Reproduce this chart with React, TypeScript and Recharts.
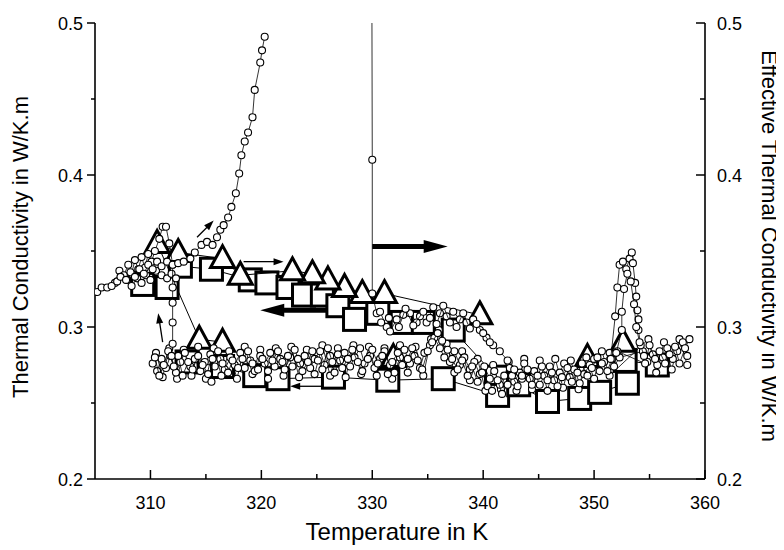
import React from 'react';
import { ScatterChart, Scatter, XAxis, YAxis, ReferenceLine, Label } from 'recharts';

type Pt = [number, number];

// small circles: heating run that shoots up near 320 K
const riseRun: Pt[] = [
  [305.2, 0.323], [305.6, 0.326], [306.1, 0.326], [306.5, 0.327], [307.0, 0.33], [307.3, 0.333],
  [307.8, 0.331], [308.2, 0.336], [308.6, 0.333], [309.0, 0.338], [309.4, 0.335], [309.8, 0.341],
  [310.2, 0.338], [310.6, 0.343], [311.0, 0.34], [311.5, 0.343], [312.0, 0.341], [312.5, 0.342],
  [313.0, 0.343], [313.6, 0.345], [314.0, 0.349], [314.6, 0.354], [315.1, 0.356], [315.6, 0.354],
  [316.0, 0.359], [316.3, 0.364], [316.6, 0.367], [317.0, 0.372], [317.3, 0.379], [317.7, 0.388],
  [318.0, 0.401], [318.2, 0.413], [318.5, 0.422], [318.8, 0.428], [319.2, 0.438], [319.4, 0.456],
  [319.9, 0.474], [320.06, 0.482], [320.3, 0.491],
];

// small circles: cluster near 310 K dropping to the lower band
const clusterRun: Pt[] = [
  [306.8, 0.329], [307.2, 0.337], [307.6, 0.334], [308.0, 0.341], [308.3, 0.335], [308.6, 0.344],
  [308.9, 0.338], [309.2, 0.346], [309.5, 0.339], [309.8, 0.348], [310.1, 0.343], [310.4, 0.35],
  [310.8, 0.358], [311.1, 0.366], [311.4, 0.366], [311.7, 0.355], [312.0, 0.341], [312.0, 0.326],
  [312.0, 0.316], [312.0, 0.303], [312.0, 0.289], [311.9, 0.281],
];

const clusterSide: Pt[] = [
  [307.9, 0.331], [308.3, 0.327], [308.8, 0.332], [309.2, 0.329], [309.6, 0.334], [310.0, 0.331],
  [310.5, 0.337], [311.0, 0.334], [311.5, 0.332], [311.9, 0.335], [312.3, 0.332],
];

// small circles: spike at 330 K then upper branch
const upperRun: Pt[] = [
  [329.95, 0.56], [330.0, 0.41], [330.0, 0.322], [330.4, 0.309], [330.7, 0.31], [331.3, 0.3],
  [331.6, 0.297], [332.2, 0.305], [332.8, 0.308], [333.4, 0.309], [334.0, 0.303], [334.3, 0.307],
  [334.9, 0.303], [335.5, 0.313], [336.1, 0.309], [336.7, 0.307], [337.3, 0.31], [337.9, 0.305],
  [338.5, 0.303], [339.1, 0.305], [339.7, 0.298], [340.3, 0.293], [340.9, 0.288], [341.5, 0.284],
  [342.2, 0.278], [342.8, 0.272], [343.5, 0.268],
];

const upperRun2: Pt[] = [
  [330.8, 0.303], [331.5, 0.306], [332.4, 0.3], [333.0, 0.312], [333.7, 0.301], [334.6, 0.31],
  [335.2, 0.306], [335.8, 0.302], [336.4, 0.314], [337.0, 0.303], [337.6, 0.3], [338.2, 0.309],
  [338.8, 0.299], [339.4, 0.302], [340.0, 0.296], [340.6, 0.29],
];

// small circles: lower band
const lowerRunA: Pt[] = [
  [310.2, 0.276], [310.6, 0.271], [311.0, 0.279], [311.4, 0.273], [311.8, 0.281], [312.3, 0.27],
  [312.7, 0.277], [313.1, 0.283], [313.6, 0.274], [314.0, 0.279], [314.5, 0.271], [314.9, 0.277],
  [315.4, 0.282], [315.8, 0.274], [316.3, 0.279], [316.7, 0.272], [317.2, 0.28], [317.6, 0.275],
  [318.1, 0.283], [318.5, 0.273], [319.0, 0.278], [319.4, 0.271], [319.9, 0.281], [320.3, 0.276],
  [320.8, 0.283], [321.2, 0.274], [321.7, 0.279], [322.1, 0.272], [322.6, 0.28], [323.0, 0.285],
  [323.5, 0.276], [323.9, 0.281], [324.4, 0.273], [324.8, 0.279], [325.3, 0.284], [325.7, 0.275],
  [326.2, 0.281], [326.6, 0.27], [327.1, 0.278], [327.5, 0.283], [328.0, 0.274], [328.4, 0.28],
  [328.9, 0.286], [329.3, 0.276], [329.8, 0.281], [330.2, 0.273], [330.7, 0.279], [331.1, 0.284],
  [331.6, 0.275], [332.0, 0.27], [332.5, 0.28], [332.9, 0.285], [333.4, 0.276], [333.8, 0.281],
  [334.3, 0.273], [334.7, 0.283], [335.2, 0.288], [335.6, 0.293], [336.1, 0.286], [336.5, 0.28],
  [337.0, 0.277], [337.4, 0.284], [337.9, 0.275], [338.3, 0.28], [338.8, 0.272], [339.2, 0.277],
  [339.7, 0.269], [340.1, 0.274], [340.6, 0.266], [341.0, 0.271], [341.5, 0.262], [341.9, 0.268],
  [342.4, 0.273], [342.8, 0.264], [343.3, 0.27], [343.7, 0.276], [344.2, 0.266], [344.6, 0.271],
  [345.1, 0.262], [345.5, 0.268], [346.0, 0.274], [346.4, 0.265], [346.9, 0.27], [347.3, 0.276],
  [347.8, 0.267], [348.2, 0.272], [348.7, 0.263], [349.1, 0.269], [349.6, 0.275], [350.0, 0.279],
  [350.5, 0.271], [350.9, 0.277], [351.4, 0.283], [351.8, 0.274], [352.3, 0.28],
  [354.4, 0.284], [354.8, 0.277], [355.3, 0.282], [355.7, 0.275], [356.2, 0.28], [356.6, 0.286],
  [357.1, 0.279], [357.5, 0.284], [358.0, 0.29], [358.4, 0.281],
];

const lowerRunB: Pt[] = [
  [310.4, 0.28], [310.8, 0.268], [311.2, 0.275], [311.6, 0.284], [312.1, 0.274], [312.5, 0.281],
  [312.9, 0.268], [313.4, 0.277], [313.8, 0.272], [314.3, 0.281], [314.7, 0.275], [315.2, 0.269],
  [315.5, 0.264], [315.6, 0.279], [316.1, 0.284], [316.5, 0.276], [317.0, 0.27], [317.4, 0.278],
  [317.9, 0.273], [318.3, 0.279], [318.8, 0.284], [319.2, 0.276], [319.7, 0.272], [320.1, 0.279],
  [320.6, 0.271], [321.0, 0.278], [321.5, 0.284], [321.9, 0.277], [322.4, 0.281], [322.8, 0.274],
  [323.3, 0.279], [323.7, 0.271], [324.2, 0.277], [324.6, 0.284], [325.1, 0.278], [325.5, 0.272],
  [326.0, 0.286], [326.4, 0.277], [326.9, 0.282], [327.3, 0.273], [327.8, 0.279], [328.2, 0.285],
  [328.7, 0.277], [329.1, 0.271], [329.6, 0.279], [330.0, 0.285], [330.5, 0.276], [330.9, 0.281],
  [331.4, 0.269], [331.8, 0.277], [332.3, 0.283], [332.7, 0.275], [333.2, 0.279], [333.6, 0.286],
  [334.1, 0.278], [334.5, 0.272], [335.0, 0.284], [335.4, 0.29], [335.9, 0.296], [336.3, 0.291],
  [336.8, 0.285], [337.2, 0.279], [337.7, 0.272], [338.1, 0.278], [338.6, 0.268], [339.0, 0.274],
  [339.5, 0.264], [339.9, 0.27], [340.4, 0.261], [340.8, 0.258], [341.3, 0.265], [341.7, 0.256],
  [342.2, 0.262], [342.6, 0.268], [343.1, 0.261], [343.5, 0.266], [344.0, 0.272], [344.4, 0.262],
  [344.9, 0.268], [345.3, 0.274], [345.8, 0.265], [346.2, 0.27], [346.7, 0.261], [347.1, 0.267],
  [347.6, 0.273], [348.0, 0.264], [348.5, 0.27], [348.9, 0.276], [349.4, 0.268], [349.8, 0.273],
  [350.3, 0.28], [350.7, 0.276], [351.2, 0.271], [351.6, 0.279], [352.1, 0.284],
  [354.6, 0.276], [355.0, 0.288], [355.5, 0.279], [355.9, 0.284], [356.4, 0.276], [356.8, 0.282],
  [357.3, 0.287], [357.7, 0.276], [358.2, 0.286], [358.6, 0.292],
];

const lowerRunC: Pt[] = [
  [310.5, 0.283], [311.1, 0.267], [311.7, 0.286], [312.4, 0.266], [313.0, 0.285], [313.7, 0.268],
  [314.3, 0.287], [315.0, 0.266], [315.7, 0.286], [316.4, 0.268], [317.1, 0.284], [317.8, 0.266],
  [318.5, 0.287], [319.2, 0.269], [319.9, 0.285], [320.6, 0.266], [321.3, 0.286], [322.0, 0.268],
  [322.7, 0.287], [323.4, 0.267], [324.1, 0.285], [324.8, 0.269], [325.5, 0.288], [326.2, 0.268],
  [326.9, 0.286], [327.6, 0.267], [328.3, 0.288], [329.0, 0.269], [329.7, 0.287], [330.4, 0.268],
  [331.1, 0.286], [331.8, 0.266], [332.5, 0.288], [333.2, 0.27], [333.9, 0.287], [334.6, 0.268],
  [335.3, 0.292], [336.0, 0.298], [336.7, 0.289], [337.4, 0.27], [338.1, 0.284], [338.8, 0.265],
  [339.5, 0.279], [340.2, 0.258], [340.9, 0.275], [341.6, 0.259], [342.3, 0.277], [343.0, 0.258],
  [343.7, 0.279], [344.4, 0.259], [345.1, 0.278], [345.8, 0.258], [346.5, 0.279], [347.2, 0.26],
  [347.9, 0.278], [348.6, 0.259], [349.3, 0.28], [350.0, 0.266], [350.7, 0.284], [351.4, 0.268],
  [354.9, 0.292], [355.6, 0.27], [356.3, 0.29], [357.0, 0.272], [357.7, 0.292], [358.4, 0.275],
];

// small circles: peak near 353 K
const peakRunA: Pt[] = [
  [351.5, 0.279], [351.9, 0.307], [352.1, 0.326], [352.3, 0.341], [352.6, 0.343], [352.9, 0.338],
  [353.2, 0.345], [353.4, 0.349], [353.5, 0.342], [353.7, 0.329], [353.8, 0.32], [353.9, 0.311],
  [354.0, 0.305], [354.0, 0.298], [354.2, 0.288], [354.5, 0.281],
];

const peakRunB: Pt[] = [
  [352.0, 0.283], [352.5, 0.298], [352.5, 0.31], [352.7, 0.325], [353.0, 0.335], [353.3, 0.33],
  [353.6, 0.315], [353.8, 0.3], [354.1, 0.29],
];

// large open squares
const squaresUpper: Pt[] = [
  [309.3, 0.328], [311.5, 0.326], [312.7, 0.34], [315.5, 0.338], [319.0, 0.331], [320.5, 0.329],
  [322.4, 0.326], [323.8, 0.321], [325.5, 0.321], [326.9, 0.314], [328.4, 0.305], [330.5, 0.309],
  [332.7, 0.303], [334.6, 0.303], [337.3, 0.298], [341.2, 0.267],
];

const squaresLower: Pt[] = [
  [313.3, 0.277], [316.5, 0.274], [319.4, 0.268], [321.5, 0.266], [326.5, 0.267], [331.4, 0.265],
  [336.4, 0.266], [341.3, 0.255], [343.2, 0.262], [345.8, 0.251], [348.7, 0.253], [350.5, 0.257],
  [353.0, 0.263], [352.8, 0.278], [355.7, 0.275],
];

// large open triangles
const trianglesUpper: Pt[] = [
  [339.7, 0.308], [331.1, 0.322], [329.1, 0.322], [327.5, 0.326], [326.0, 0.331], [324.6, 0.335],
  [322.8, 0.337], [318.1, 0.334], [316.5, 0.345], [312.5, 0.349], [310.6, 0.355], [314.4, 0.292],
  [316.5, 0.29],
];

const trianglesLower: Pt[] = [
  [331.9, 0.28], [349.4, 0.28], [352.6, 0.29],
];

// direction arrows [from, to]
const boldArrows: [Pt, Pt][] = [
  [[330.0, 0.353], [336.8, 0.353]],
  [[327.5, 0.311], [319.9, 0.311]],
];

const thinArrows: [Pt, Pt][] = [
  [[318.4, 0.343], [322.0, 0.343]],
  [[326.0, 0.261], [322.6, 0.261]],
  [[311.1, 0.29], [310.7, 0.309]],
  [[314.2, 0.359], [315.7, 0.37]],
];

const xTicks = [310, 315, 320, 325, 330, 335, 340, 345, 350, 355, 360];
const yTicks = [0.2, 0.25, 0.3, 0.35, 0.4, 0.45, 0.5];

const FONT = 'Liberation Sans, Arial, Helvetica, sans-serif';

const pts = (a: Pt[]) => a.map(([x, y]) => ({ x, y }));

const circleShape = (p: any) => (
  <circle cx={p.cx} cy={p.cy} r={3.5} fill="#fff" stroke="#000" strokeWidth={1.1} />
);
const squareShape = (p: any) => (
  <rect x={p.cx - 11} y={p.cy - 11} width={22} height={22} fill="#fff" stroke="#000" strokeWidth={3} />
);
const triangleShape = (p: any) => (
  <polygon
    points={`${p.cx},${p.cy - 13} ${p.cx + 12},${p.cy + 9} ${p.cx - 12},${p.cy + 9}`}
    fill="#fff"
    stroke="#000"
    strokeWidth={3}
  />
);

const isMajorX = (v: number) => Math.round(v) % 10 === 0;
const isMajorY = (v: number) => Math.abs(v * 10 - Math.round(v * 10)) < 1e-6;

const BottomTick = (p: any) => {
  const v = p.payload.value;
  const major = isMajorX(v);
  return (
    <g>
      <line x1={p.x} y1={p.y} x2={p.x} y2={p.y - (major ? 9 : 5)} stroke="#000" strokeWidth={1.5} />
      {major && (
        <text x={p.x} y={p.y + 30} textAnchor="middle" fontSize={18} fontFamily={FONT} fill="#000">
          {v}
        </text>
      )}
    </g>
  );
};

const TopTick = (p: any) => {
  const major = isMajorX(p.payload.value);
  return <line x1={p.x} y1={p.y} x2={p.x} y2={p.y + (major ? 9 : 5)} stroke="#000" strokeWidth={1.5} />;
};

const LeftTick = (p: any) => {
  const v = p.payload.value;
  const major = isMajorY(v);
  return (
    <g>
      <line x1={p.x - (major ? 8 : 4)} y1={p.y} x2={p.x} y2={p.y} stroke="#000" strokeWidth={1.5} />
      {major && (
        <text x={p.x - 12} y={p.y + 6.5} textAnchor="end" fontSize={18} fontFamily={FONT} fill="#000">
          {v.toFixed(1)}
        </text>
      )}
    </g>
  );
};

const RightTick = (p: any) => {
  const v = p.payload.value;
  const major = isMajorY(v);
  return (
    <g>
      <line x1={p.x} y1={p.y} x2={p.x - (major ? 9 : 5)} y2={p.y} stroke="#000" strokeWidth={1.5} />
      {major && (
        <text x={p.x + 12} y={p.y + 6.5} textAnchor="start" fontSize={18} fontFamily={FONT} fill="#000">
          {v.toFixed(1)}
        </text>
      )}
    </g>
  );
};

const arrowShape = (width: number, headLen: number, headHalf: number) => (p: any) => {
  const { x1, y1, x2, y2 } = p;
  const dx = x2 - x1;
  const dy = y2 - y1;
  const len = Math.hypot(dx, dy) || 1;
  const ux = dx / len;
  const uy = dy / len;
  const bx = x2 - ux * headLen;
  const by = y2 - uy * headLen;
  const head = `${x2},${y2} ${bx - uy * headHalf},${by + ux * headHalf} ${bx + uy * headHalf},${by - ux * headHalf}`;
  return (
    <g>
      <line x1={x1} y1={y1} x2={bx + ux} y2={by + uy} stroke="#000" strokeWidth={width} />
      <polygon points={head} fill="#000" />
    </g>
  );
};

const boldArrow = arrowShape(5, 24, 6.5);
const thinArrow = arrowShape(1.3, 10, 3.5);

const xTitle = (p: any) => {
  const vb = p.viewBox || { x: 87, y: 471, width: 610 };
  return (
    <text x={vb.x + vb.width / 2 - 3} y={vb.y + 61} textAnchor="middle" fontSize={24} fontFamily={FONT} fill="#000">
      Temperature in K
    </text>
  );
};

const leftTitle = (p: any) => {
  const vb = p.viewBox || { y: 15, height: 456 };
  const cy = vb.y + vb.height / 2 - 4;
  return (
    <text x={20} y={cy} transform={`rotate(-90, 20, ${cy})`} textAnchor="middle" fontSize={22} fontFamily={FONT} fill="#000">
      Thermal Conductivity in W/K.m
    </text>
  );
};

const rightTitle = (p: any) => {
  const vb = p.viewBox || { x: 697, y: 15, height: 456 };
  const cx = vb.x + 57;
  const cy = vb.y + vb.height / 2 - 5;
  return (
    <text x={cx} y={cy} transform={`rotate(90, ${cx}, ${cy})`} textAnchor="middle" fontSize={22} fontFamily={FONT} fill="#000">
      Effective Thermal Conductivity in W/K.m
    </text>
  );
};

const thinLine = { stroke: '#000', strokeWidth: 0.8 };
const markerLine = { stroke: '#000', strokeWidth: 1 };

export default function App() {
  return (
    <div style={{ background: '#fff' }}>
      <ScatterChart width={776} height={542} margin={{ top: 15, right: 0, bottom: 0, left: 0 }}>
        <XAxis
          xAxisId="b"
          type="number"
          dataKey="x"
          domain={[305, 360]}
          ticks={xTicks}
          allowDataOverflow
          height={71}
          tickSize={0}
          tickMargin={0}
          tickLine={false}
          tick={BottomTick}
          axisLine={{ stroke: '#000', strokeWidth: 1.6 }}
          interval={0}
        >
          <Label content={xTitle} />
        </XAxis>
        <XAxis
          xAxisId="t"
          orientation="top"
          type="number"
          dataKey="x"
          domain={[305, 360]}
          ticks={xTicks}
          allowDataOverflow
          height={0}
          tickSize={0}
          tickMargin={0}
          tickLine={false}
          tick={TopTick}
          axisLine={{ stroke: '#000', strokeWidth: 1.6 }}
          interval={0}
        />
        <YAxis
          yAxisId="l"
          type="number"
          dataKey="y"
          domain={[0.2, 0.5]}
          ticks={yTicks}
          allowDataOverflow
          width={87}
          tickSize={0}
          tickMargin={0}
          tickLine={false}
          tick={LeftTick}
          axisLine={{ stroke: '#000', strokeWidth: 1.6 }}
          interval={0}
        >
          <Label content={leftTitle} />
        </YAxis>
        <YAxis
          yAxisId="r"
          orientation="right"
          type="number"
          dataKey="y"
          domain={[0.2, 0.5]}
          ticks={yTicks}
          allowDataOverflow
          width={79}
          tickSize={0}
          tickMargin={0}
          tickLine={false}
          tick={RightTick}
          axisLine={{ stroke: '#000', strokeWidth: 1.6 }}
          interval={0}
        >
          <Label content={rightTitle} />
        </YAxis>

        <Scatter xAxisId="b" yAxisId="l" data={pts(squaresUpper)} shape={squareShape} line={markerLine} isAnimationActive={false} />
        <Scatter xAxisId="b" yAxisId="l" data={pts(squaresLower)} shape={squareShape} line={markerLine} isAnimationActive={false} />
        <Scatter xAxisId="b" yAxisId="l" data={pts(trianglesUpper)} shape={triangleShape} line={markerLine} isAnimationActive={false} />
        <Scatter xAxisId="b" yAxisId="l" data={pts(trianglesLower)} shape={triangleShape} isAnimationActive={false} />

        <Scatter xAxisId="b" yAxisId="l" data={pts(lowerRunC)} shape={circleShape} line={thinLine} isAnimationActive={false} />
        <Scatter xAxisId="b" yAxisId="l" data={pts(lowerRunA)} shape={circleShape} line={thinLine} isAnimationActive={false} />
        <Scatter xAxisId="b" yAxisId="l" data={pts(lowerRunB)} shape={circleShape} line={thinLine} isAnimationActive={false} />
        <Scatter xAxisId="b" yAxisId="l" data={pts(upperRun)} shape={circleShape} line={thinLine} isAnimationActive={false} />
        <Scatter xAxisId="b" yAxisId="l" data={pts(upperRun2)} shape={circleShape} line={thinLine} isAnimationActive={false} />
        <Scatter xAxisId="b" yAxisId="l" data={pts(clusterSide)} shape={circleShape} line={thinLine} isAnimationActive={false} />
        <Scatter xAxisId="b" yAxisId="l" data={pts(clusterRun)} shape={circleShape} line={thinLine} isAnimationActive={false} />
        <Scatter xAxisId="b" yAxisId="l" data={pts(riseRun)} shape={circleShape} line={thinLine} isAnimationActive={false} />
        <Scatter xAxisId="b" yAxisId="l" data={pts(peakRunA)} shape={circleShape} line={thinLine} isAnimationActive={false} />
        <Scatter xAxisId="b" yAxisId="l" data={pts(peakRunB)} shape={circleShape} line={thinLine} isAnimationActive={false} />

        {boldArrows.map((seg, i) => (
          <ReferenceLine
            key={`b${i}`}
            xAxisId="b"
            yAxisId="l"
            segment={[{ x: seg[0][0], y: seg[0][1] }, { x: seg[1][0], y: seg[1][1] }]}
            shape={boldArrow}
          />
        ))}
        {thinArrows.map((seg, i) => (
          <ReferenceLine
            key={`t${i}`}
            xAxisId="b"
            yAxisId="l"
            segment={[{ x: seg[0][0], y: seg[0][1] }, { x: seg[1][0], y: seg[1][1] }]}
            shape={thinArrow}
          />
        ))}
      </ScatterChart>
    </div>
  );
}
